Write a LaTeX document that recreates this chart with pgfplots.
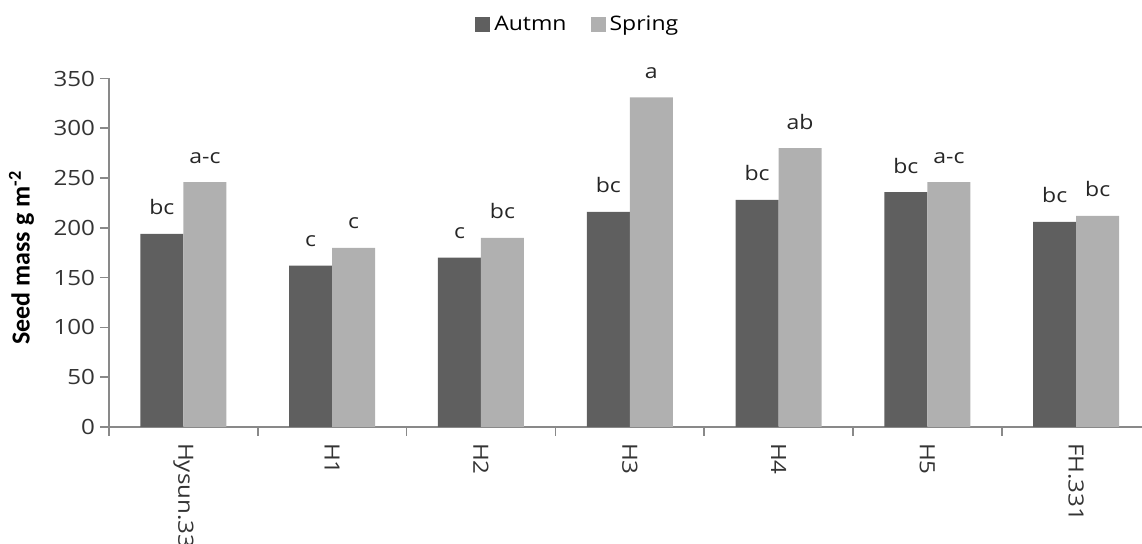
\documentclass[border=0pt]{standalone}
\usepackage{fontspec}
\setmainfont{Open Sans}[FakeStretch=1.15]
\newfontfamily\labelfont{Carlito}
\usepackage{pgfplots}
\usepackage{pgfplotstable}
\pgfplotsset{compat=1.18}

\definecolor{autumn}{HTML}{5F5F5F}
\definecolor{spring}{HTML}{B0B0B0}
\definecolor{axisgray}{HTML}{898989}

% seed mass (g m^-2) per hybrid, with the letter groups of the mean comparison
\pgfplotstableread{
x autumn spring la ls
0 194 246 bc a-c
1 162 180 c c
2 170 190 c bc
3 216 331 bc a
4 228 280 bc ab
5 236 246 bc a-c
6 206 212 bc bc
}\seeddata

\newcommand{\tickfont}{\fontsize{10.5pt}{12pt}\selectfont}
\newcommand{\chartfont}{\fontsize{10pt}{12pt}\selectfont}

\begin{document}
\begin{tikzpicture}
\useasboundingbox (-54.5pt,-58.5pt) rectangle (516.5pt,213.5pt);
\clip (-54.5pt,-58.5pt) rectangle (516.5pt,213.5pt);
\begin{axis}[
  at={(0,0)}, anchor=south west,
  scale only axis, width=520.8pt, height=174.25pt,
  xmin=-0.5, xmax=6.5, ymin=0, ymax=350,
  ytick={0,50,...,350},
  xtick={-0.5,0.5,...,6.5},
  x tick label as interval,
  xticklabels={Hysun.33,H1,H2,H3,H4,H5,FH.331},
  axis x line*=bottom, axis y line*=left,
  axis line style={axisgray, line width=0.8pt},
  tick align=outside, major tick length=4.5pt,
  tick style={axisgray, line width=0.8pt},
  /pgf/number format/assume math mode=true,
  every tick label/.append style={font=\tickfont, text=black!80},
  x tick label style={rotate=-90, anchor=west},
  y tick label style={xshift=1pt},
  ylabel={\labelfont\bfseries\fontsize{13pt}{15pt}\selectfont Seed mass g m\textsuperscript{-2}},
  ylabel style={at={(axis description cs:-0.084,0.486)}, anchor=center},
  ybar=0pt, bar width=21.5pt,
  nodes near coords,
  point meta=explicit symbolic,
  every node near coord/.append style={font=\chartfont, text=black!85, anchor=base, yshift=9.5pt},
  legend columns=2,
  legend style={at={(0.451,1.1535)}, anchor=center, draw=none, font=\chartfont,
    /tikz/every even column/.append style={column sep=10pt}},
  legend image code/.code={\fill[#1] (0pt,-3.5pt) rectangle (7.5pt,4pt);},
]
\addplot[fill=autumn, draw=none] table[x=x, y=autumn, meta=la] {\seeddata};
\addplot[fill=spring, draw=none] table[x=x, y=spring, meta=ls] {\seeddata};
\legend{Autmn, Spring}
\end{axis}
\end{tikzpicture}
\end{document}
